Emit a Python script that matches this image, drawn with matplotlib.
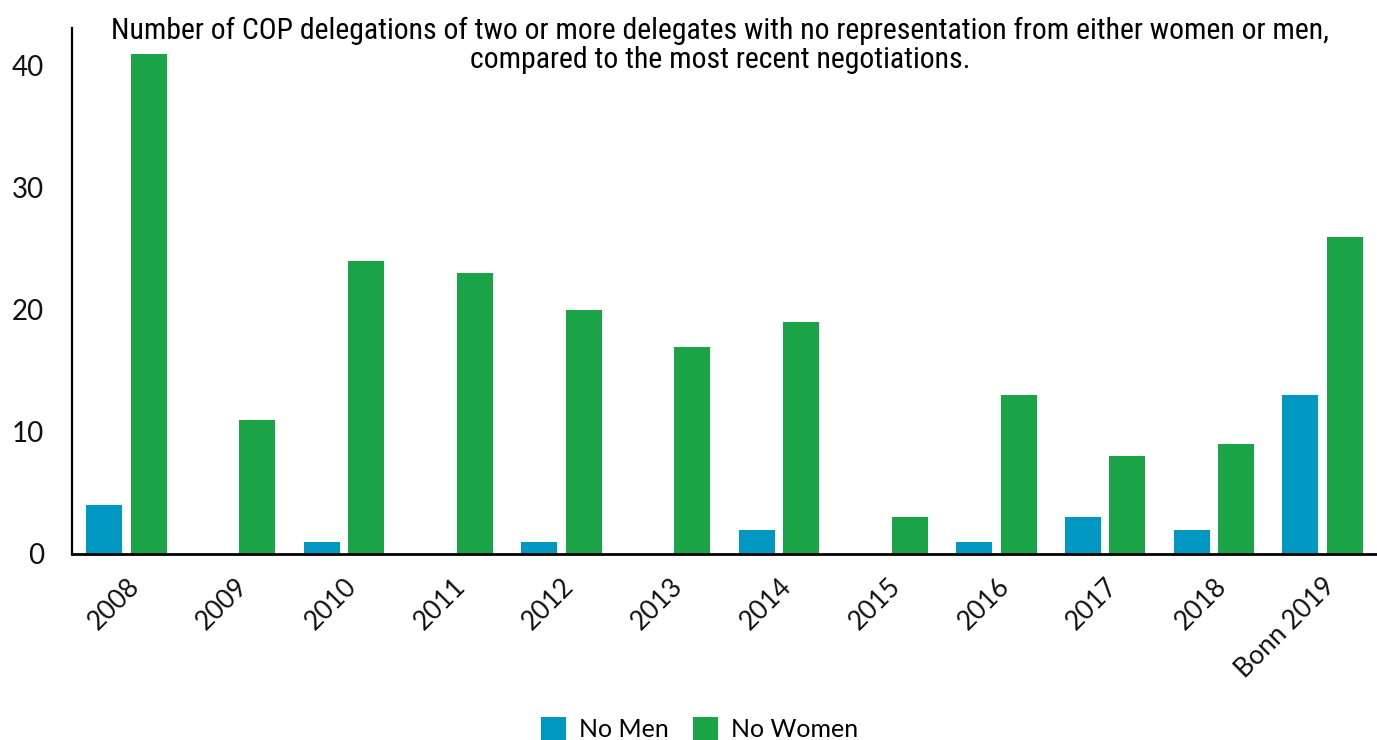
import numpy as np
import matplotlib.pyplot as plt
from matplotlib import font_manager

# data
categories = ['2008', '2009', '2010', '2011', '2012', '2013', '2014', '2015',
              '2016', '2017', '2018', 'Bonn 2019']
no_men = [4, 0, 1, 0, 1, 0, 2, 0, 1, 3, 2, 13]
no_women = [41, 11, 24, 23, 20, 17, 19, 3, 13, 8, 9, 26]

title_text = ('Number of COP delegations of two or more delegates with no representation from either women or men,\n'
              'compared to the most recent negotiations.')

# look for a narrow font for the title
narrow_file = None
files = sorted(f.fname for f in font_manager.fontManager.ttflist)
for key in ['LiberationSansNarrow-Regular', 'RobotoCondensed-Regular', 'Roboto_Condensed-Regular',
            'DejaVuSansCondensed.ttf', 'OpenSans_Condensed-Regular', 'NotoSans-Condensed.ttf']:
    hits = [f for f in files if key in f]
    if hits:
        narrow_file = hits[0]
        break
if narrow_file:
    title_font = font_manager.FontProperties(fname=narrow_file, size=21.4)
else:
    title_font = font_manager.FontProperties(family='DejaVu Sans', stretch='condensed', size=18)

plt.rcParams['font.family'] = ['Lato', 'DejaVu Sans']

fig = plt.figure(figsize=(13.77, 7.4), dpi=100)
ax = fig.add_axes([72 / 1377, 1 - 554 / 740, 1305 / 1377, (554 - 28) / 740])

x = np.arange(len(categories))
w = 0.33
ax.bar(x - 0.205, no_men, w, color='#0098c3', label='No Men')
ax.bar(x + 0.205, no_women, w, color='#1aa347', label='No Women')

ax.set_xlim(-0.5, len(categories) - 0.5)
ax.set_ylim(0, 43.1)
ax.set_yticks([0, 10, 20, 30, 40])
ax.set_xticks(x)
ax.set_xticklabels(categories, rotation=45, ha='right', rotation_mode='anchor', fontsize=19)
ax.tick_params(axis='both', length=0, colors='#111111')
ax.tick_params(axis='y', pad=20, labelsize=20)
ax.tick_params(axis='x', pad=14)

for s in ['top', 'right']:
    ax.spines[s].set_visible(False)
ax.spines['left'].set_linewidth(1.6)
ax.spines['bottom'].set_linewidth(2)

fig.text(0.523, 0.977, title_text, ha='center', va='top', fontproperties=title_font,
         linespacing=1.05)

fig.legend(loc='lower center', bbox_to_anchor=(0.508, -0.032), ncol=2, frameon=False,
           fontsize=18, handlelength=1.0, handleheight=1.0, handletextpad=0.5, columnspacing=1.0)

fig.savefig('out.png', dpi=100)
